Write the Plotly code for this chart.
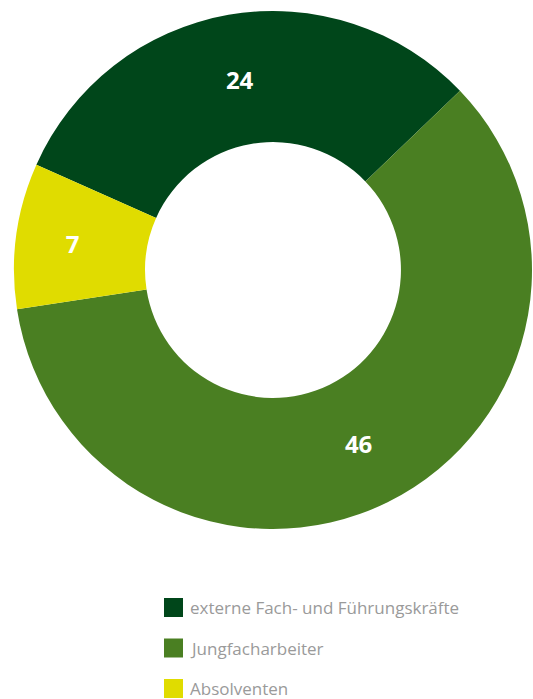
import plotly.graph_objects as go

labels = ["externe Fach- und Führungskräfte", "Jungfacharbeiter", "Absolventen"]
values = [24, 46, 7]
colors = ["#00461a", "#4a7f22", "#e0dc00"]

W, H = 533, 699

fig = go.Figure()
fig.add_trace(go.Pie(
    labels=labels,
    values=values,
    sort=False,
    direction="clockwise",
    rotation=-66,
    hole=0.494,
    marker=dict(colors=colors, line=dict(width=0)),
    textinfo="value",
    textposition="inside",
    insidetextorientation="horizontal",
    textfont=dict(family="Open Sans", size=24, color="white", weight="bold"),
    domain=dict(x=[14 / W, 532 / W], y=[1 - 530 / H, 1 - 10 / H]),
    showlegend=False,
    hoverinfo="label+value",
))

# manual legend (layout)
x_sq0, sq = 164, 19
y0, gap = 607.5, 40.5
for i, (lab, col) in enumerate(zip(labels, colors)):
    yc = y0 + i * gap
    fig.add_shape(type="rect", xref="paper", yref="paper",
                  x0=x_sq0 / W, x1=(x_sq0 + sq) / W,
                  y0=1 - (yc - sq / 2) / H, y1=1 - (yc + sq / 2) / H,
                  fillcolor=col, line=dict(width=0))
    fig.add_annotation(xref="paper", yref="paper", x=188 / W, y=1 - yc / H,
                       text=lab, showarrow=False, xanchor="left", yanchor="middle",
                       font=dict(family="Open Sans", size=17, color="#9a9a9a"))

fig.update_layout(
    width=W, height=H,
    margin=dict(l=0, r=0, t=0, b=0),
    paper_bgcolor="white",
    plot_bgcolor="white",
)

fig.write_html("out.html")
